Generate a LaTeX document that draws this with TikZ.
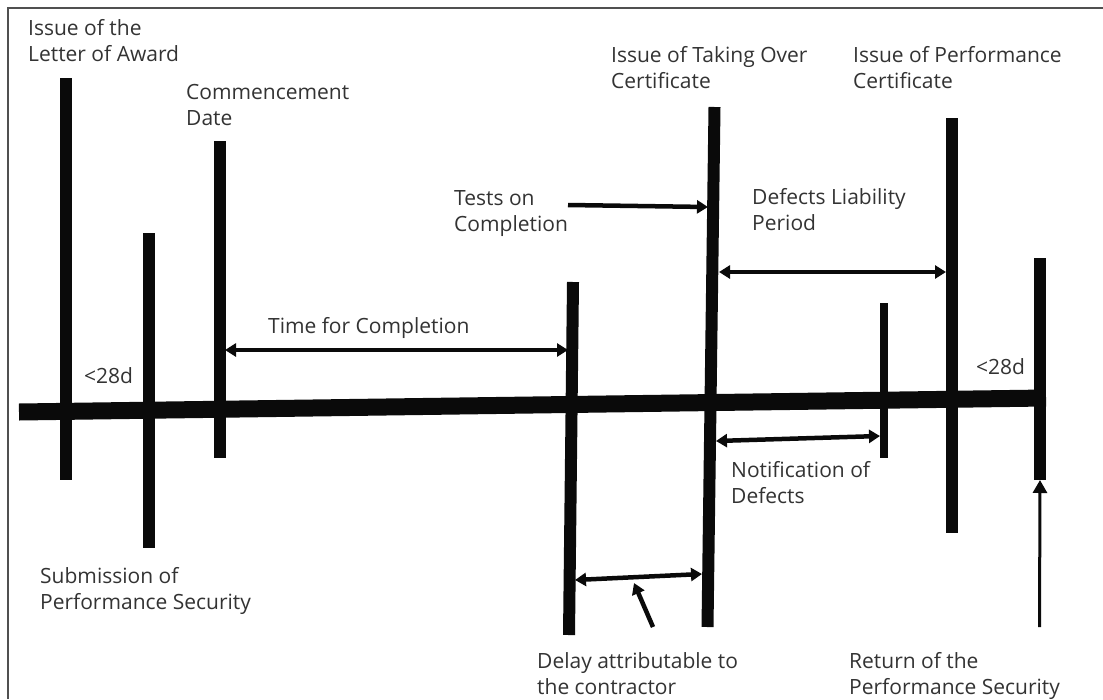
\documentclass[tikz,border=0pt]{standalone}
\usepackage{fontspec}
\setmainfont{Open Sans}
\usetikzlibrary{arrows.meta, calc}
\definecolor{barblack}{RGB}{10,10,10}
\definecolor{labelgrey}{RGB}{51,51,51}
\definecolor{framegrey}{RGB}{80,80,80}

\begin{document}
\begin{tikzpicture}[x=1pt, y=-1pt, font=\fontsize{21}{25.5}\selectfont,
  bar/.style={barblack, line width=12pt, line cap=butt},
  span/.style={barblack, line width=4.5pt,
    {Triangle[length=11pt,width=13pt]}-{Triangle[length=11pt,width=13pt]}},
  pointer/.style={barblack, line width=4.5pt, -{Triangle[length=11pt,width=13pt]}},
  lbl/.style={labelgrey, anchor=base west, align=left, inner sep=0pt}]
  \useasboundingbox (0,0) rectangle (1103,699);

  % frame, open at right and bottom
  \draw[framegrey, line width=1.5pt] (8,699) -- (8,8) -- (1103,8);

  % time line
  \coordinate (line-w) at (19,412);
  \coordinate (line-e) at (1046,398);
  \draw[barblack, line width=17pt] (line-w) -- (line-e);

  % milestones
  \coordinate (loa-t) at (66,78);     \coordinate (loa-b) at (66,480);
  \coordinate (sub-t) at (149,233);   \coordinate (sub-b) at (149,548);
  \coordinate (com-t) at (219.5,141); \coordinate (com-b) at (219.5,458);
  \coordinate (cmp-t) at (573,282);   \coordinate (cmp-b) at (569,635);
  \coordinate (toc-t) at (714.5,107); \coordinate (toc-b) at (707.5,627);
  \coordinate (nod-t) at (884,303);   \coordinate (nod-b) at (884,458);
  \coordinate (pc-t) at (951.5,118);  \coordinate (pc-b) at (951.5,533);
  \coordinate (ret-t) at (1040,258);  \coordinate (ret-b) at (1040,480);
  \foreach \m in {loa,sub,com,cmp,toc,pc,ret}
    \draw[bar] (\m-t) -- (\m-b);
  \draw[bar, line width=8pt] (nod-t) -- (nod-b);

  % periods
  \coordinate (tfc-a) at (225,350);   \coordinate (tfc-b) at (568,350);
  \coordinate (dlp-a) at (719,272);   \coordinate (dlp-b) at (946,272);
  \coordinate (ntf-a) at (716,441);   \coordinate (ntf-b) at (880,436);
  \coordinate (dly-a) at (575,580);   \coordinate (dly-b) at (702,574);
  \draw[span] (tfc-a) -- (tfc-b);
  \draw[span] (dlp-a) -- (dlp-b);
  \draw[span] (ntf-a) -- (ntf-b);
  \draw[span] (dly-a) -- (dly-b);

  % pointers
  \coordinate (tst-a) at (568,205);   \coordinate (tst-b) at (708,207);
  \coordinate (dly-p) at (653,627);   \coordinate (dly-q) at (634,583);
  \coordinate (ret-p) at (1039.5,627);
  \draw[pointer] (tst-a) -- (tst-b);
  \draw[pointer] (dly-p) -- (dly-q);
  \draw[barblack, line width=3pt, -{Triangle[length=13pt,width=14pt]}] (ret-p) -- (ret-b);

  % labels (base = last line)
  \node[lbl] (loa-lbl) at (28,61) {Issue of the\\Letter of Award};
  \node[lbl] (com-lbl) at (186,125) {Commencement\\Date};
  \node[lbl] (sub-lbl) at (40,609) {Submission of\\Performance Security};
  \node[lbl] (d28-lbl) at (84,383) {<28d};
  \node[lbl] (tfc-lbl) at (268,333) {Time for Completion};
  \node[lbl] (tst-lbl) at (454,231) {Tests on\\Completion};
  \node[lbl] (toc-lbl) at (611,88) {Issue of Taking Over\\Certificate};
  \node[lbl] (pc-lbl) at (853,88) {Issue of Performance\\Certificate};
  \node[lbl] (dlp-lbl) at (752,230) {Defects Liability\\Period};
  \node[lbl] (r28-lbl) at (976,374) {<28d};
  \node[lbl] (ntf-lbl) at (731,503) {Notification of\\Defects};
  \node[lbl] (dly-lbl) at (537,694) {Delay attributable to\\the contractor};
  \node[lbl] (ret-lbl) at (849,694) {Return of the\\Performance Security};
\end{tikzpicture}
\end{document}
